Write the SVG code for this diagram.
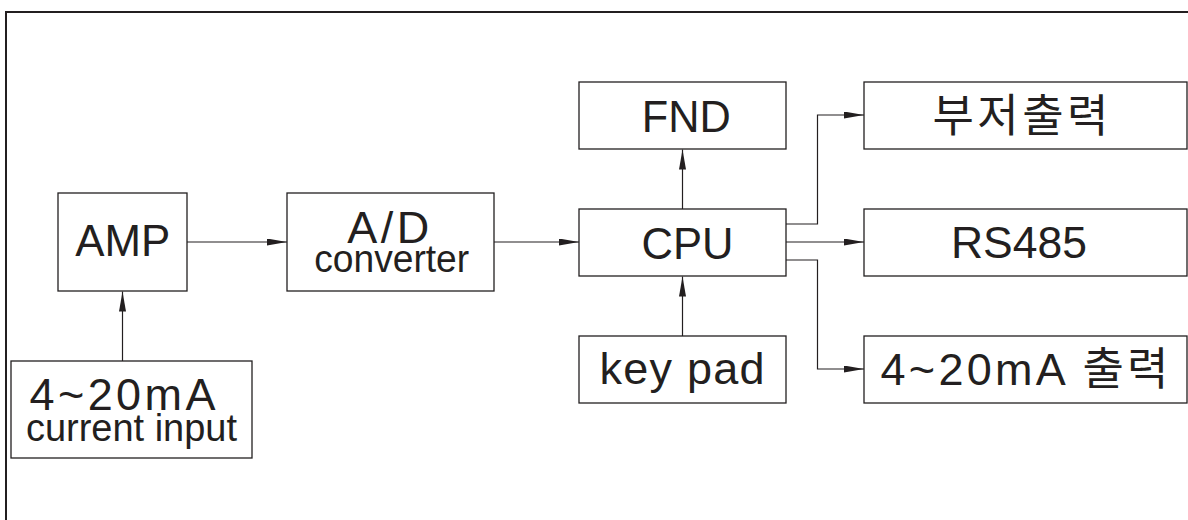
<svg xmlns="http://www.w3.org/2000/svg" width="1188" height="520" viewBox="0 0 1188 520">
<style>
.box{fill:#ffffff;stroke:#231f20;stroke-width:1.3}
.t{font-family:"Liberation Sans","Noto Sans CJK KR",Arial,sans-serif;fill:#231f20;text-anchor:middle;font-size:45px}
.s{font-size:38.5px}
.k{font-family:"Noto Sans CJK KR","Liberation Sans",sans-serif;fill:#231f20;text-anchor:middle;font-size:45px}
.c{fill:none;stroke:#231f20;stroke-width:1.2}
.frame{fill:none;stroke:#231f20;stroke-width:2}
</style>
<defs>
<marker id="arr" markerUnits="userSpaceOnUse" markerWidth="21" markerHeight="8" refX="20" refY="3.5" orient="auto">
<path d="M0,0 L20,3.5 L0,7 z" fill="#231f20"/>
</marker>
</defs>
<rect width="1188" height="520" fill="#ffffff"/>
<path class="frame" d="M6,520 V12 H1188"/>
<g id="connectors">
<path class="c" d="M187,242 H287" marker-end="url(#arr)"/>
<path class="c" d="M494,242 H579" marker-end="url(#arr)"/>
<path class="c" d="M122.5,361 V291.5" marker-end="url(#arr)"/>
<path class="c" d="M682.5,209 V149.5" marker-end="url(#arr)"/>
<path class="c" d="M682.5,336 V276.5" marker-end="url(#arr)"/>
<path class="c" d="M786,224 H817.5 V115 H864" marker-end="url(#arr)"/>
<path class="c" d="M786,242 H864" marker-end="url(#arr)"/>
<path class="c" d="M786,260 H817.5 V369 H864" marker-end="url(#arr)"/>
</g>
<g id="amp">
<rect class="box" x="58" y="193" width="129" height="98"/>
<text class="t" x="122.7" y="256" textLength="95" lengthAdjust="spacingAndGlyphs">AMP</text>
</g>
<g id="adc">
<rect class="box" x="287" y="193" width="207" height="98"/>
<text class="t" x="388.3" y="243" textLength="82" lengthAdjust="spacing">A/D</text>
<text class="t s" x="391.7" y="272.3" textLength="155" lengthAdjust="spacingAndGlyphs">converter</text>
</g>
<g id="current-input">
<rect class="box" x="11" y="361" width="241" height="97"/>
<text class="t" x="122.5" y="410" textLength="186" lengthAdjust="spacing">4~20mA</text>
<text class="t s" x="131.5" y="441" textLength="211" lengthAdjust="spacingAndGlyphs">current input</text>
</g>
<g id="fnd">
<rect class="box" x="579" y="82" width="207" height="67"/>
<text class="t" x="686.2" y="132.3" style="font-size:44px" textLength="89" lengthAdjust="spacingAndGlyphs">FND</text>
</g>
<g id="cpu">
<rect class="box" x="579" y="209" width="207" height="67"/>
<text class="t" x="687.6" y="258.5" style="font-size:44px" textLength="92" lengthAdjust="spacingAndGlyphs">CPU</text>
</g>
<g id="keypad">
<rect class="box" x="579" y="336" width="207" height="67"/>
<text class="t" x="682" y="384" textLength="165" lengthAdjust="spacing">key pad</text>
</g>
<g id="buzzer">
<rect class="box" x="864" y="82" width="323" height="67"/>
<text class="k" x="1020.5" y="132" textLength="176" lengthAdjust="spacing">부저출력</text>
</g>
<g id="rs485">
<rect class="box" x="864" y="209" width="323" height="67"/>
<text class="t" x="1019" y="258" textLength="136" lengthAdjust="spacingAndGlyphs">RS485</text>
</g>
<g id="ma-out">
<rect class="box" x="864" y="336" width="323" height="67"/>
<text class="t" x="1024.5" y="385" textLength="288" lengthAdjust="spacing">4~20mA 출력</text>
</g>
</svg>
